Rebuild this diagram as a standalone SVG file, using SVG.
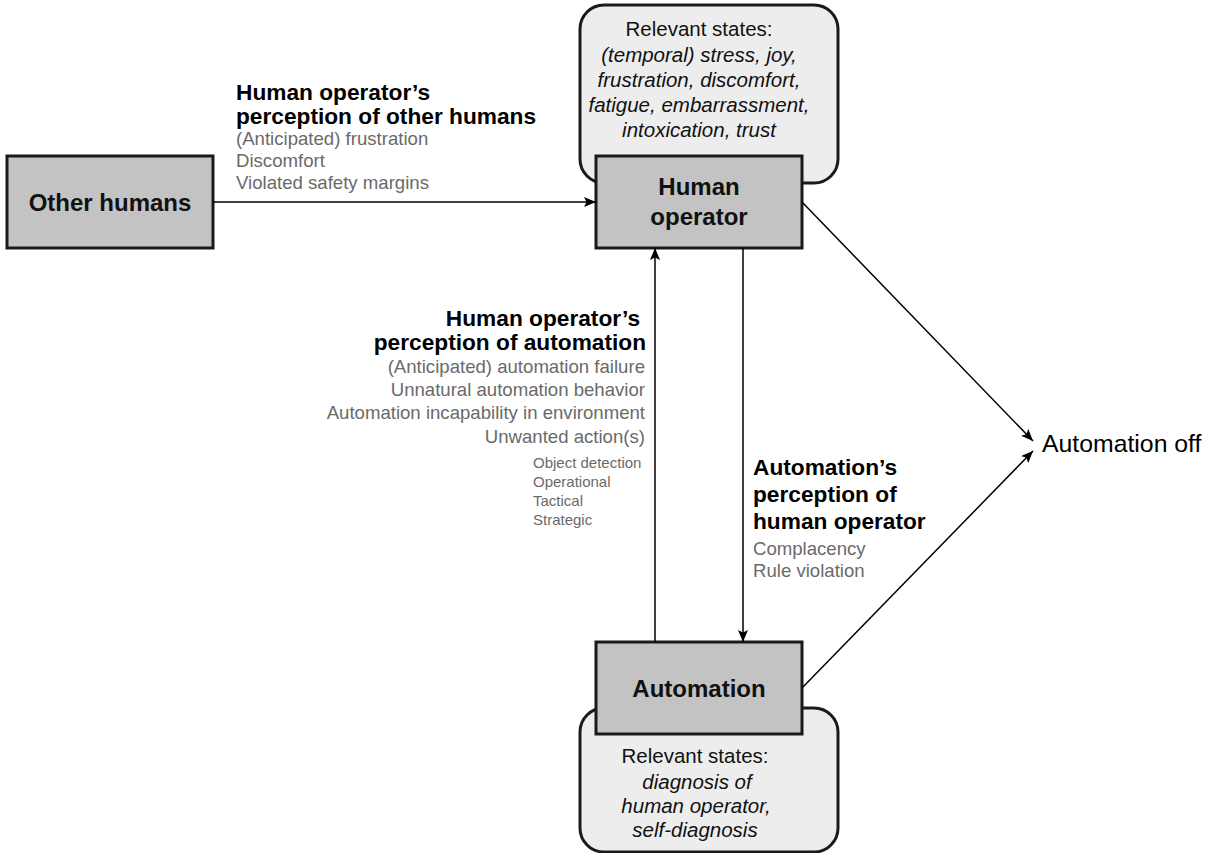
<svg xmlns="http://www.w3.org/2000/svg" width="1211" height="853" viewBox="0 0 1211 853">
<style>
.state{fill:#ededed;stroke:#1a1a1a;stroke-width:3}
.box{fill:#c3c3c3;stroke:#1a1a1a;stroke-width:3}
.node{font-family:"Liberation Sans",Arial,sans-serif;font-weight:bold;font-size:24px;fill:#111;text-anchor:middle}
.st{font-family:"Liberation Sans",Arial,sans-serif;font-size:20.5px;fill:#111;text-anchor:middle}
.it{font-style:italic}
.lb{font-family:"Liberation Sans",Arial,sans-serif;font-weight:bold;font-size:22.7px;fill:#000}
.gr{font-family:"Liberation Sans",Arial,sans-serif;font-size:18.6px;fill:#6a6a6a}
.sm{font-family:"Liberation Sans",Arial,sans-serif;font-size:15px;fill:#6a6a6a}
.off{font-family:"Liberation Sans",Arial,sans-serif;font-size:24.8px;fill:#000}
.con{stroke:#000;stroke-width:1.5;fill:none;marker-end:url(#ah)}
</style>
<defs>
<marker id="ah" viewBox="0 0 12 10" refX="12" refY="5" markerWidth="12" markerHeight="10" markerUnits="userSpaceOnUse" orient="auto">
<path d="M0,0 L12,5 L0,10 L2.5,5 z" fill="#000"/>
</marker>
</defs>
<rect width="1211" height="853" fill="#fff"/>

<g id="human-operator">
<rect class="state" x="580" y="5" width="258" height="178" rx="24"/>
<text class="st" x="699" y="36">Relevant states:</text>
<text class="st it" x="699" y="62">(temporal) stress, joy,</text>
<text class="st it" x="699" y="87">frustration, discomfort,</text>
<text class="st it" x="699" y="112">fatigue, embarrassment,</text>
<text class="st it" x="699" y="137">intoxication, trust</text>
<rect class="box" x="596" y="156" width="206" height="92"/>
<text class="node" x="699" y="195">Human</text>
<text class="node" x="699" y="225">operator</text>
</g>

<g id="other-humans">
<rect class="box" x="7" y="156" width="206" height="92"/>
<text class="node" x="110" y="211">Other humans</text>
</g>

<g id="automation">
<rect class="state" x="580" y="708" width="258" height="144" rx="24"/>
<text class="st" x="695" y="763">Relevant states:</text>
<text class="st it" x="697" y="789">diagnosis of</text>
<text class="st it" x="696" y="813">human operator,</text>
<text class="st it" x="695" y="837">self-diagnosis</text>
<rect class="box" x="596" y="642" width="206" height="92"/>
<text class="node" x="699" y="697">Automation</text>
</g>

<g id="automation-off">
<text class="off" x="1042" y="452">Automation off</text>
</g>

<g id="connectors">
<line class="con" x1="213" y1="202" x2="596" y2="202"/>
<line class="con" x1="655" y1="642" x2="655" y2="248"/>
<line class="con" x1="743" y1="248" x2="743" y2="642"/>
<line class="con" x1="802" y1="202" x2="1033" y2="441"/>
<line class="con" x1="802" y1="688" x2="1033" y2="451"/>
</g>

<g id="label-other-humans">
<text class="lb" x="236" y="100">Human operator’s</text>
<text class="lb" x="236" y="124">perception of other humans</text>
<text class="gr" x="236" y="145">(Anticipated) frustration</text>
<text class="gr" x="236" y="167">Discomfort</text>
<text class="gr" x="236" y="189">Violated safety margins</text>
</g>

<g id="label-automation">
<text class="lb" x="640" y="326" text-anchor="end">Human operator’s</text>
<text class="lb" x="646" y="350" text-anchor="end">perception of automation</text>
<text class="gr" x="645" y="373" text-anchor="end">(Anticipated) automation failure</text>
<text class="gr" x="645" y="396" text-anchor="end">Unnatural automation behavior</text>
<text class="gr" x="645" y="419" text-anchor="end">Automation incapability in environment</text>
<text class="gr" x="645" y="443" text-anchor="end">Unwanted action(s)</text>
<text class="sm" x="533" y="468">Object detection</text>
<text class="sm" x="533" y="487">Operational</text>
<text class="sm" x="533" y="506">Tactical</text>
<text class="sm" x="533" y="525">Strategic</text>
</g>

<g id="label-human-operator">
<text class="lb" x="753" y="475">Automation’s</text>
<text class="lb" x="753" y="502">perception of</text>
<text class="lb" x="753" y="529">human operator</text>
<text class="gr" x="753" y="555">Complacency</text>
<text class="gr" x="753" y="577">Rule violation</text>
</g>
</svg>
